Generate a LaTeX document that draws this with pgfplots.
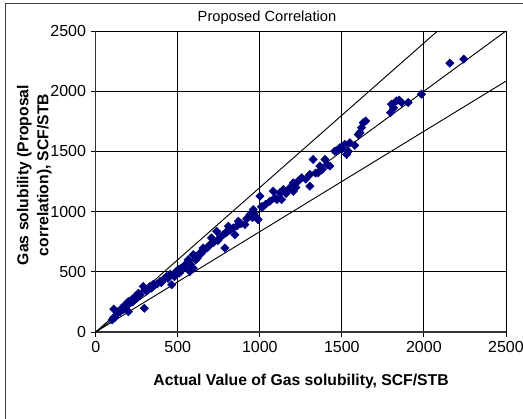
\documentclass[border=0pt]{standalone}
\usepackage{fontspec}
\setmainfont{Liberation Sans}
\usepackage{pgfplots}
\pgfplotsset{compat=1.18}
\definecolor{navy}{RGB}{0,0,128}

\begin{document}
\begin{tikzpicture}
\useasboundingbox (-71.8pt,-65.25pt) rectangle (320.5pt,249pt);
\draw[line width=1.1pt, black!75] (-67.5pt,-65.25pt) -- (-67.5pt,246.5pt) -- (320.5pt,246.5pt);
\begin{axis}[
  at={(0,0)}, anchor=origin,
  scale only axis,
  width=307.7pt, height=225.75pt,
  xmin=0, xmax=2500, ymin=0, ymax=2500,
  xtick={0,500,...,2500}, ytick={0,500,...,2500},
  axis lines=left,
  axis line style={-, line width=0.9pt, black!80},
  tick align=outside,
  major tick length=3.75pt,
  tick style={black, line width=0.6pt},
  grid=major,
  major grid style={black, line width=0.6pt},
  ticklabel style={font=\fontsize{12}{14}\selectfont},
  /pgf/number format/assume math mode=true,
  /pgf/number format/1000 sep={},
  clip=false,
]
% Measured vs. proposed correlation
\addplot[only marks, mark=square*, mark size=2.2pt, color=navy,
  mark options={fill=navy, draw=navy, rotate=45}] coordinates {
(100,100) (107,114) (110,190) (118,122) (130,150) (138,169) (150,170)
(158,197) (165,185) (178,225) (185,210) (199,253) (199,169) (205,240)
(219,267) (225,250) (240,294) (245,275) (255,300) (260,322) (270,310)
(290,378) (296,197) (300,350) (310,340) (331,378) (340,365) (350,395)
(361,392) (375,400) (392,419) (400,410) (415,440) (432,461) (440,445)
(455,480) (463,392) (473,475) (480,460) (490,500) (503,517) (510,490)
(520,530) (530,520) (544,558) (550,545) (564,600) (574,503) (580,560)
(594,531) (594,642) (605,628) (610,600) (620,615) (635,656) (645,656)
(655,697) (660,680) (680,700) (696,725) (706,781) (715,740) (737,836)
(745,760) (760,790) (777,808) (787,697) (795,830) (808,878) (820,850)
(838,864) (848,808) (860,880) (869,919) (885,900) (909,892) (920,940)
(940,975) (955,950) (960,989) (960,1017) (975,960) (990,933) (1001,1128)
(1010,1040) (1021,1044) (1035,1060) (1062,1086) (1082,1169) (1092,1114)
(1105,1100) (1122,1156) (1133,1100) (1143,1183) (1160,1150) (1183,1197)
(1204,1169) (1204,1239) (1220,1200) (1234,1253) (1255,1281) (1280,1270)
(1305,1211) (1305,1308) (1325,1433) (1340,1320) (1356,1322) (1366,1378)
(1380,1350) (1397,1433) (1410,1390) (1427,1378) (1457,1503) (1468,1503)
(1488,1531) (1500,1520) (1518,1558) (1529,1475) (1540,1500) (1549,1572)
(1579,1550) (1600,1640) (1610,1656) (1620,1697) (1630,1739) (1645,1752)
(1797,1822) (1803,1892) (1815,1860) (1833,1919) (1850,1925) (1864,1906)
(1904,1906) (1985,1975) (2158,2233) (2243,2267)
};
% 45 degree line and +/-20 % bounds
\addplot[black, line width=0.7pt] coordinates {(0,0) (2500,2500)};
\addplot[black, line width=0.7pt] coordinates {(0,0) (2083.3,2500)};
\addplot[black, line width=0.7pt] coordinates {(0,0) (2500,2083.3)};
\end{axis}
\node[font=\fontsize{11}{13}\selectfont] at (128.5pt,235.5pt) {Proposed Correlation};
\node[font=\bfseries\fontsize{11.8}{15}\selectfont, rotate=90, align=center] at (-46pt,117.75pt)
  {Gas solubility (Proposal\\correlation), SCF/STB};
\node[font=\bfseries\fontsize{11.8}{14}\selectfont] at (154pt,-36.75pt)
  {Actual Value of Gas solubility, SCF/STB};
\end{tikzpicture}
\end{document}
